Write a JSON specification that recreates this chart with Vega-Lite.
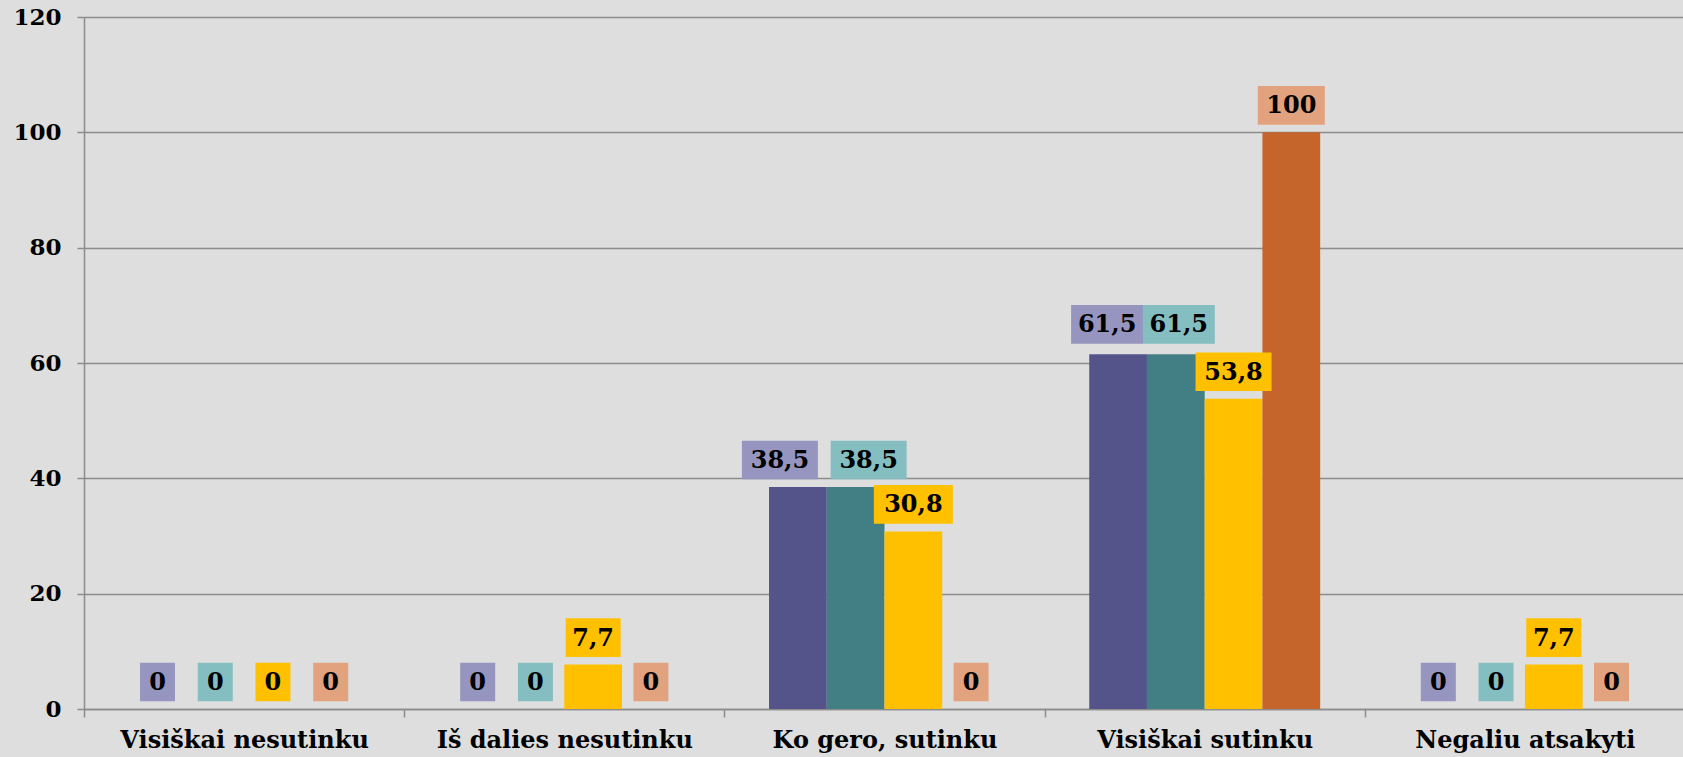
{
  "$schema": "https://vega.github.io/schema/vega-lite/v6.json",
  "width": 1601,
  "height": 692,
  "autosize": {"type": "none"},
  "padding": {"left": 84, "top": 17, "right": 0, "bottom": 48},
  "background": "#dedede",
  "config": {
    "view": {"stroke": null},
    "font": "DejaVu Serif",
    "locale": {"number": {"decimal": ",", "thousands": " ", "grouping": [3], "currency": ["", " €"]}}
  },
  "data": {
    "values": [
      {"atsakymas": "Visiškai nesutinku", "serija": "1", "reiksme": 0},
      {"atsakymas": "Visiškai nesutinku", "serija": "2", "reiksme": 0},
      {"atsakymas": "Visiškai nesutinku", "serija": "3", "reiksme": 0},
      {"atsakymas": "Visiškai nesutinku", "serija": "4", "reiksme": 0},
      {"atsakymas": "Iš dalies nesutinku", "serija": "1", "reiksme": 0},
      {"atsakymas": "Iš dalies nesutinku", "serija": "2", "reiksme": 0},
      {"atsakymas": "Iš dalies nesutinku", "serija": "3", "reiksme": 7.7},
      {"atsakymas": "Iš dalies nesutinku", "serija": "4", "reiksme": 0},
      {"atsakymas": "Ko gero, sutinku", "serija": "1", "reiksme": 38.5},
      {"atsakymas": "Ko gero, sutinku", "serija": "2", "reiksme": 38.5},
      {"atsakymas": "Ko gero, sutinku", "serija": "3", "reiksme": 30.8},
      {"atsakymas": "Ko gero, sutinku", "serija": "4", "reiksme": 0},
      {"atsakymas": "Visiškai sutinku", "serija": "1", "reiksme": 61.5},
      {"atsakymas": "Visiškai sutinku", "serija": "2", "reiksme": 61.5},
      {"atsakymas": "Visiškai sutinku", "serija": "3", "reiksme": 53.8},
      {"atsakymas": "Visiškai sutinku", "serija": "4", "reiksme": 100},
      {"atsakymas": "Negaliu atsakyti", "serija": "1", "reiksme": 0},
      {"atsakymas": "Negaliu atsakyti", "serija": "2", "reiksme": 0},
      {"atsakymas": "Negaliu atsakyti", "serija": "3", "reiksme": 7.7},
      {"atsakymas": "Negaliu atsakyti", "serija": "4", "reiksme": 0}
    ]
  },
  "encoding": {
    "x": {
      "field": "atsakymas", "type": "nominal", "sort": null,
      "scale": {"paddingInner": 0, "paddingOuter": 0},
      "axis": {
        "title": null, "labelAngle": 0, "labelFont": "DejaVu Serif", "labelFontWeight": "bold",
        "labelFontSize": 24, "labelColor": "#000000", "labelPadding": 11, "labelLimit": 0,
        "tickBand": "extent", "tickColor": "#8c8c8c", "tickSize": 8, "tickWidth": 1.5,
        "domainColor": "#8c8c8c", "domainWidth": 1.5, "grid": false
      }
    },
    "xOffset": {"field": "serija", "type": "nominal", "sort": null, "scale": {"paddingInner": 0, "paddingOuter": 0.773}},
    "y": {
      "field": "reiksme", "type": "quantitative",
      "scale": {"domain": [0, 120], "nice": false},
      "axis": {
        "title": null, "values": [0, 20, 40, 60, 80, 100, 120],
        "grid": true, "gridColor": "#8c8c8c", "gridWidth": 1.5,
        "domainColor": "#8c8c8c", "domainWidth": 1.5,
        "tickSize": 7, "tickColor": "#8c8c8c", "tickWidth": 1.5,
        "labelFont": "DejaVu Serif", "labelFontSize": 23, "labelFontWeight": "bold",
        "labelColor": "#000000", "labelPadding": 16
      }
    }
  },
  "layer": [
    {
      "mark": {"type": "bar"},
      "encoding": {
        "color": {"field": "serija", "type": "nominal", "legend": null,
          "scale": {"domain": ["1", "2", "3", "4"], "range": ["#54548a", "#427f84", "#ffc000", "#c5652b"]}}
      }
    },
    {
      "mark": {"type": "point", "filled": true, "opacity": 1, "strokeWidth": 0, "yOffset": -27},
      "encoding": {
        "fill": {"field": "serija", "type": "nominal", "legend": null,
          "scale": {"domain": ["1", "2", "3", "4"], "range": ["#9595c0", "#85bec1", "#ffc000", "#e2a27e"]}},
        "size": {"value": 6400},
        "shape": {
          "condition": [
            {"test": "datum.reiksme == 0", "value": "M-0.4375,-0.4825H0.4375V0.4825H-0.4375Z"},
            {"test": "datum.reiksme < 10", "value": "M-0.6875,-0.4825H0.6875V0.4825H-0.6875Z"},
            {"test": "datum.reiksme == 38.5 && datum.serija == '1'", "value": "M-1.4,-0.4825H0.5V0.4825H-1.4Z"},
            {"test": "datum.reiksme == 38.5 && datum.serija == '2'", "value": "M-0.625,-0.4825H1.275V0.4825H-0.625Z"},
            {"test": "datum.reiksme == 61.5 && datum.serija == '1'", "value": "M-1.175,-0.5575H0.625V0.4075H-1.175Z"},
            {"test": "datum.reiksme == 61.5 && datum.serija == '2'", "value": "M-0.825,-0.5575H0.975V0.4075H-0.825Z"},
            {"test": "datum.reiksme == 30.8", "value": "M-0.9875,-0.4825H0.9875V0.4825H-0.9875Z"},
            {"test": "datum.reiksme >= 100", "value": "M-0.8375,-0.4825H0.8375V0.4825H-0.8375Z"}
          ],
          "value": "M-0.95,-0.4825H0.95V0.4825H-0.95Z"
        }
      }
    },
    {
      "transform": [{"filter": "!(datum.reiksme > 30 && datum.reiksme < 62 && (datum.serija == '1' || datum.serija == '2'))"}],
      "mark": {"type": "text", "font": "DejaVu Serif", "fontWeight": "bold", "fontSize": 24, "color": "#000000", "baseline": "middle", "align": "center", "yOffset": -26},
      "encoding": {"text": {"field": "reiksme", "type": "quantitative", "format": ".1~f"}}
    },
    {
      "transform": [{"filter": "datum.reiksme == 38.5 && datum.serija == '1'"}],
      "mark": {"type": "text", "font": "DejaVu Serif", "fontWeight": "bold", "fontSize": 24, "color": "#000000", "baseline": "middle", "align": "center", "yOffset": -26, "dx": -18},
      "encoding": {"text": {"field": "reiksme", "type": "quantitative", "format": ".1~f"}}
    },
    {
      "transform": [{"filter": "datum.reiksme == 38.5 && datum.serija == '2'"}],
      "mark": {"type": "text", "font": "DejaVu Serif", "fontWeight": "bold", "fontSize": 24, "color": "#000000", "baseline": "middle", "align": "center", "yOffset": -26, "dx": 13},
      "encoding": {"text": {"field": "reiksme", "type": "quantitative", "format": ".1~f"}}
    },
    {
      "transform": [{"filter": "datum.reiksme == 61.5 && datum.serija == '1'"}],
      "mark": {"type": "text", "font": "DejaVu Serif", "fontWeight": "bold", "fontSize": 24, "color": "#000000", "baseline": "middle", "align": "center", "yOffset": -29, "dx": -11},
      "encoding": {"text": {"field": "reiksme", "type": "quantitative", "format": ".1~f"}}
    },
    {
      "transform": [{"filter": "datum.reiksme == 61.5 && datum.serija == '2'"}],
      "mark": {"type": "text", "font": "DejaVu Serif", "fontWeight": "bold", "fontSize": 24, "color": "#000000", "baseline": "middle", "align": "center", "yOffset": -29, "dx": 3},
      "encoding": {"text": {"field": "reiksme", "type": "quantitative", "format": ".1~f"}}
    }
  ]
}
